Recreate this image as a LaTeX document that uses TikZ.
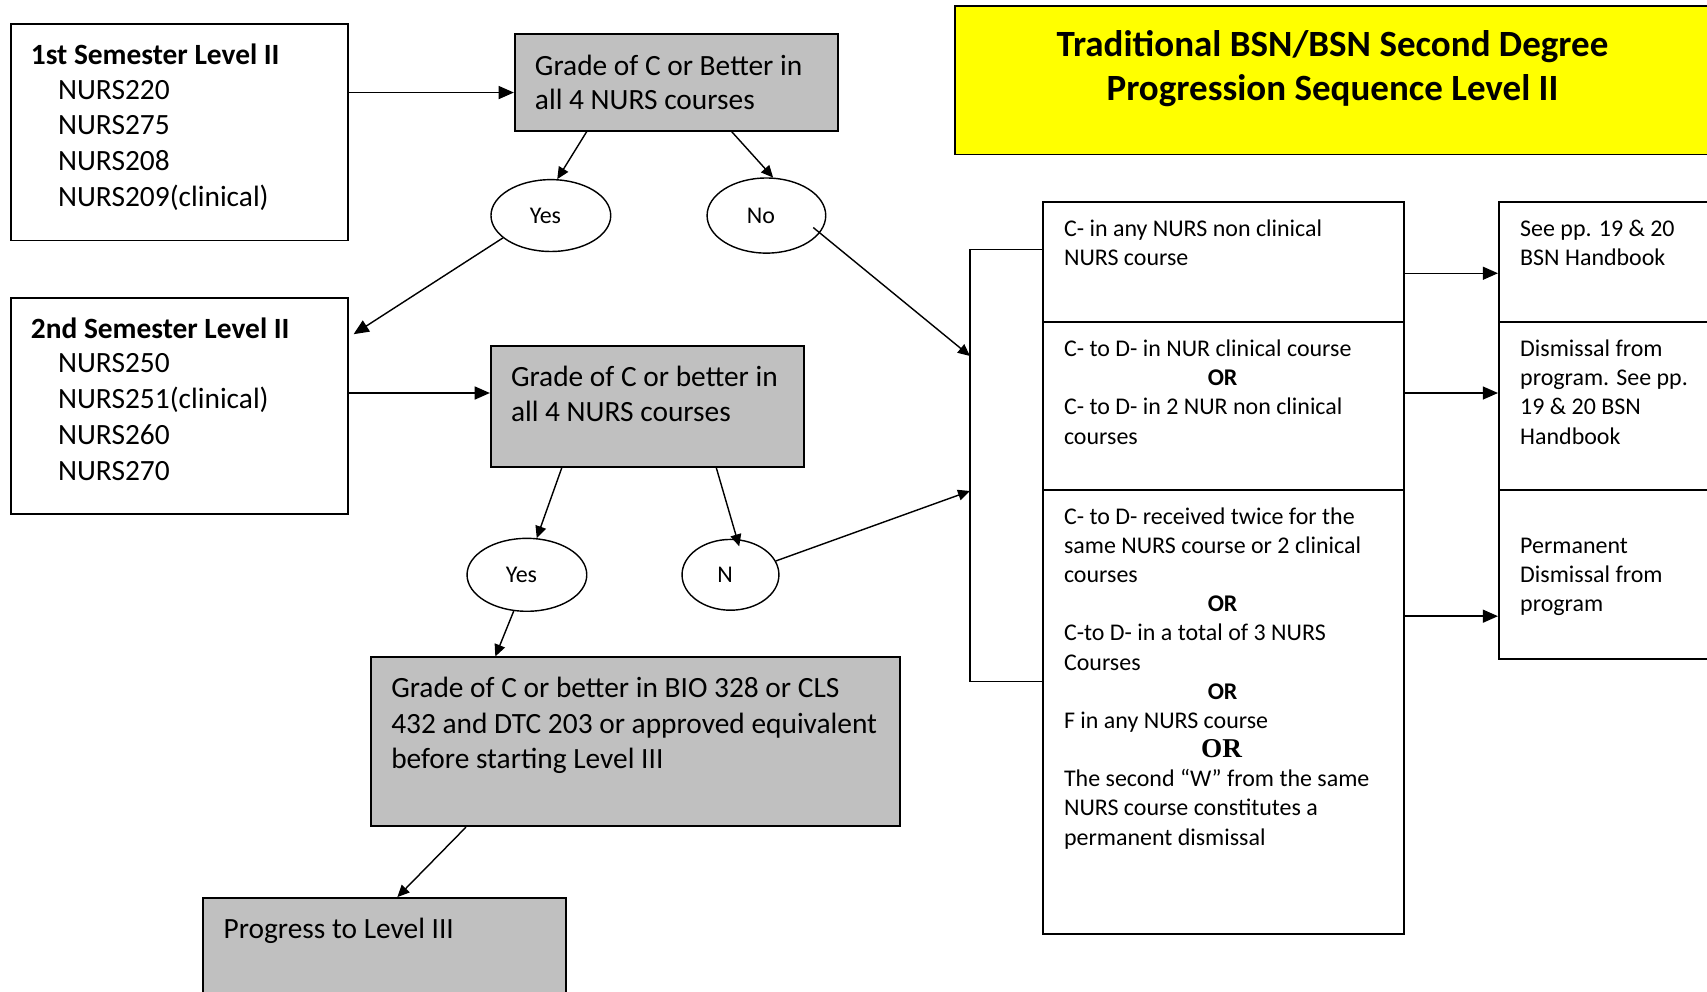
\documentclass[tikz,border=0pt]{standalone}
\usepackage{fontspec}
\setmainfont{Carlito}
\newfontfamily\timesf{Liberation Serif}
\usetikzlibrary{arrows.meta,calc,shapes.geometric}

\definecolor{boxgray}{HTML}{C0C0C0}
\definecolor{titleyellow}{HTML}{FFFF00}

\tikzset{
 box/.style={draw=black, line width=0.9pt, rectangle, anchor=north west, inner sep=0pt},
 graybox/.style={box, fill=boxgray},
 oval/.style={draw=black, line width=0.65pt, ellipse, inner sep=0pt, font=\fontsize{11}{13}\selectfont},
 bigtxt/.style={anchor=north west, inner sep=0pt, align=left, font=\fontsize{13.5}{16.5}\selectfont},
 gtxt/.style={anchor=north west, inner sep=0pt, align=left, font=\fontsize{13.5}{16}\selectfont},
 smtxt/.style={anchor=north west, inner sep=0pt, align=left, font=\fontsize{11}{13.4}\selectfont},
 arr/.style={line width=0.65pt, -{Triangle[length=5.5pt,width=5pt]}},
 bigarr/.style={line width=0.65pt, -{Triangle[length=7pt,width=6pt]}},
 plain/.style={line width=0.7pt},
}

\begin{document}
\begin{tikzpicture}[x=0.5pt,y=-0.5pt]
\useasboundingbox (0,0) rectangle (1568,911);
\fill[white] (0,0) rectangle (1568,911);
\clip (0,0) rectangle (1568,911);

% title
\node[box, fill=titleyellow, minimum width=348pt, minimum height=68pt] (title) at (876,5) {};
\node[anchor=north, inner sep=0pt, align=center, font=\bfseries\fontsize{17}{20.5}\selectfont] (titletxt) at (1224,24)
  {\rule{0pt}{0.8em}Traditional BSN/BSN Second Degree\\Progression Sequence Level II};

% left column
\node[box, minimum width=155pt, minimum height=99.5pt] (b1) at (9,21) {};
\node[bigtxt] (b1t) at (28,37) {\rule{0pt}{0.8em}\textbf{1st Semester Level II}\\[-0.5pt]
  \hspace*{12.5pt}NURS220\\\hspace*{12.5pt}NURS275\\\hspace*{12.5pt}NURS208\\\hspace*{12.5pt}NURS209(clinical)};

\node[box, minimum width=155pt, minimum height=99pt] (b2) at (9,273) {};
\node[bigtxt] (b2t) at (28,289) {\rule{0pt}{0.8em}\textbf{2nd Semester Level II}\\[-1pt]
  \hspace*{12.5pt}NURS250\\\hspace*{12.5pt}NURS251(clinical)\\\hspace*{12.5pt}NURS260\\\hspace*{12.5pt}NURS270};

% grade boxes
\node[graybox, minimum width=148.5pt, minimum height=44.5pt] (g1) at (472,30) {};
\node[gtxt] (g1t) at (491,47) {\rule{0pt}{0.8em}Grade of C or Better in\\all 4 NURS courses};

\node[graybox, minimum width=144pt, minimum height=55.5pt] (g2) at (450,317) {};
\node[gtxt] (g2t) at (469,333) {\rule{0pt}{0.8em}Grade of C or better in\\all 4 NURS courses};

\node[graybox, minimum width=243pt, minimum height=77.5pt] (b3) at (340,603) {};
\node[gtxt, font=\fontsize{13.5}{16.25}\selectfont] (b3t) at (359,619) {\rule{0pt}{0.8em}Grade of C or better in BIO 328 or CLS\\432 and DTC 203 or approved equivalent\\before starting Level III};

\node[graybox, minimum width=166.5pt, minimum height=60pt] (pr) at (186,824) {};
\node[gtxt] (prt) at (205,840) {\rule{0pt}{0.8em}Progress to Level III};

% ovals
\node[oval, minimum width=55pt, minimum height=33pt] (y1) at (506,198) {\hspace*{-5pt}Yes};
\node[oval, minimum width=54.5pt, minimum height=34.5pt] (n1) at (704,198) {\hspace*{-5pt}No};
\node[oval, minimum width=55pt, minimum height=33.5pt] (y2) at (484,528) {\hspace*{-5pt}Yes};
\node[oval, minimum width=44.5pt, minimum height=32.5pt] (nn) at (671,528) {\hspace*{-5pt}N};

% right column
\node[box, minimum width=166pt, minimum height=55pt] (r1) at (957,185) {};
\node[box, minimum width=166pt, minimum height=77pt] (r2) at (957,295) {};
\node[box, minimum width=166pt, minimum height=204pt] (r3) at (957,449) {};
\node[smtxt] (r1t) at (977,199.5) {\rule{0pt}{0.8em}C- in any NURS non clinical\\NURS course};
\node[smtxt] (r2t) at (977,309.5) {\rule{0pt}{0.8em}C- to D- in NUR clinical course\\
  \hspace*{66pt}\textbf{OR}\\C- to D- in 2 NUR non clinical\\courses};
\node[smtxt] (r3t) at (977,463.5) {\rule{0pt}{0.8em}C- to D- received twice for the\\
  same NURS course or 2 clinical\\courses\\
  \hspace*{66pt}\textbf{OR}\\
  C-to D- in a total of 3 NURS\\Courses\\
  \hspace*{66pt}\textbf{OR}\\
  F in any NURS course\\
  \hspace*{63pt}{\timesf\bfseries\fontsize{12.5}{13.4}\selectfont OR}\\
  The second “W” from the same\\NURS course constitutes a\\permanent dismissal};

\node[box, minimum width=112pt, minimum height=55pt] (s1) at (1376,185) {};
\node[box, minimum width=112pt, minimum height=77pt] (s2) at (1376,295) {};
\node[box, minimum width=112pt, minimum height=77.5pt] (s3) at (1376,449) {};
\node[smtxt] (s1t) at (1396,199.5) {\rule{0pt}{0.8em}See pp. 19 \& 20\\BSN Handbook};
\node[smtxt] (s2t) at (1396,309.5) {\rule{0pt}{0.8em}Dismissal from\\program. See pp.\\19 \& 20 BSN\\Handbook};
\node[smtxt] (s3t) at (1396,490.5) {\rule{0pt}{0.8em}Permanent\\Dismissal from\\program};

% bracket
\draw[plain] ($(r1.north west)+(0,44)$) -- ++(-66,0) |- ($(r3.north west)+(0,177)$);
\coordinate (ba) at ($(r1.north west)+(-66,142)$);
\coordinate (bb) at ($(r1.north west)+(-66,266)$);

% connectors
\draw[bigarr] ($(b1.north east)+(0,64)$) -- ($(g1.north west)+(0,55)$);
\draw[arr] ($(g1.south west)+(67,0)$) -- (y1.80);
\draw[arr] ($(g1.south west)+(200,0)$) -- (n1.80);
\draw[bigarr] (y1.205) -- ($(b2.north east)+(4,34)$);
\draw[bigarr] ($(b2.north east)+(0,88)$) -- ($(g2.north west)+(0,44)$);
\draw[arr] ($(g2.south west)+(66,0)$) -- (y2.75);
\draw[arr] ($(g2.south west)+(208,0)$) -- ($(nn.north)+(8,7)$);
\draw[arr] (y2.250) -- ($(b3.north west)+(115,0)$);
\draw[arr] ($(b3.south west)+(88,0)$) -- ($(pr.north west)+(179,0)$);
\draw[arr] ($(n1.center)+(43,11)$) -- (ba);
\draw[arr] (nn.17) -- (bb);
\draw[bigarr] ($(r1.north east)+(0,66)$) -- ($(s1.north west)+(0,66)$);
\draw[bigarr] ($(r2.north east)+(0,66)$) -- ($(s2.north west)+(0,66)$);
\draw[bigarr] ($(r3.north east)+(0,117)$) -- ($(s3.north west)+(0,117)$);
\end{tikzpicture}
\end{document}
